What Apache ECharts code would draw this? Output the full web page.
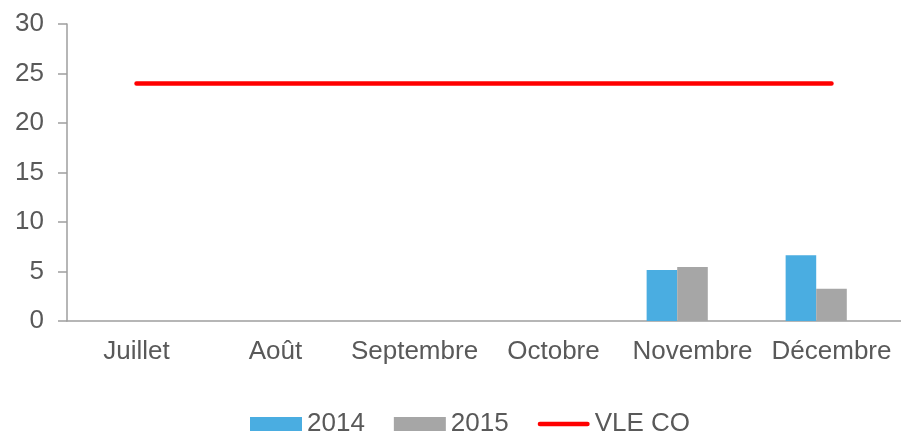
<!DOCTYPE html>
<html>
<head>
<meta charset="utf-8">
<script src="https://cdn.jsdelivr.net/npm/echarts@6/dist/echarts.min.js"></script>
<style>
  html, body { margin: 0; padding: 0; background: #fff; }
  #chart { width: 901px; height: 434px; }
</style>
</head>
<body>
<div id="chart"></div>
<script>
  // données
  var mois = ['Juillet', 'Août', 'Septembre', 'Octobre', 'Novembre', 'Décembre'];
  var valeurs2014 = [null, null, null, null, 5.15, 6.65];
  var valeurs2015 = [null, null, null, null, 5.45, 3.25];
  var vleCO = [24, 24, 24, 24, 24, 24];

  var police = 'Liberation Sans, Arial, sans-serif';
  var gris = '#595959';

  var myChart = echarts.init(document.getElementById('chart'));
  myChart.setOption({
    animation: false,
    textStyle: { fontFamily: police },
    grid: { left: 67, right: -3, top: 24, bottom: 113 },
    legend: {
      left: 245,
      top: 406,
      itemWidth: 52,
      itemHeight: 14,
      itemGap: 29,
      textStyle: { fontSize: 26, color: gris, fontFamily: police },
      data: [
        { name: '2014', icon: 'rect' },
        { name: '2015', icon: 'rect' },
        {
          name: 'VLE CO',
          // trait rouge épais à bouts arrondis
          icon: 'path://M2.25,0 L49.75,0 A2.25,2.25 0 0 1 49.75,4.5 L2.25,4.5 A2.25,2.25 0 0 1 2.25,0 Z'
        }
      ]
    },
    xAxis: {
      type: 'category',
      data: mois,
      axisLine: { lineStyle: { color: '#9e9e9e', width: 1.5 } },
      axisTick: { length: 7, lineStyle: { color: '#9e9e9e', width: 1.5 } },
      axisLabel: { fontSize: 26, color: gris, margin: 18, interval: 0 }
    },
    yAxis: {
      type: 'value',
      min: 0,
      max: 30,
      interval: 5,
      splitLine: { show: false },
      axisLine: { show: true, lineStyle: { color: '#9e9e9e', width: 1.5 } },
      axisTick: { show: true, length: 9, lineStyle: { color: '#9e9e9e', width: 1.5 } },
      axisLabel: { fontSize: 26, color: gris, margin: 23 }
    },
    series: [
      {
        name: '2014',
        type: 'bar',
        data: valeurs2014,
        barGap: 0,
        barCategoryGap: '34%',
        itemStyle: { color: '#4aade1' }
      },
      {
        name: '2015',
        type: 'bar',
        data: valeurs2015,
        itemStyle: { color: '#a6a6a6' }
      },
      {
        // emplacement vide (comme dans le classeur d'origine)
        name: 'vide',
        type: 'bar',
        data: [],
        itemStyle: { color: 'transparent' }
      },
      {
        name: 'VLE CO',
        type: 'line',
        data: vleCO,
        symbol: 'none',
        lineStyle: { color: '#ff0000', width: 4.5, cap: 'round' },
        itemStyle: { color: '#ff0000' }
      }
    ]
  });
</script>
</body>
</html>
